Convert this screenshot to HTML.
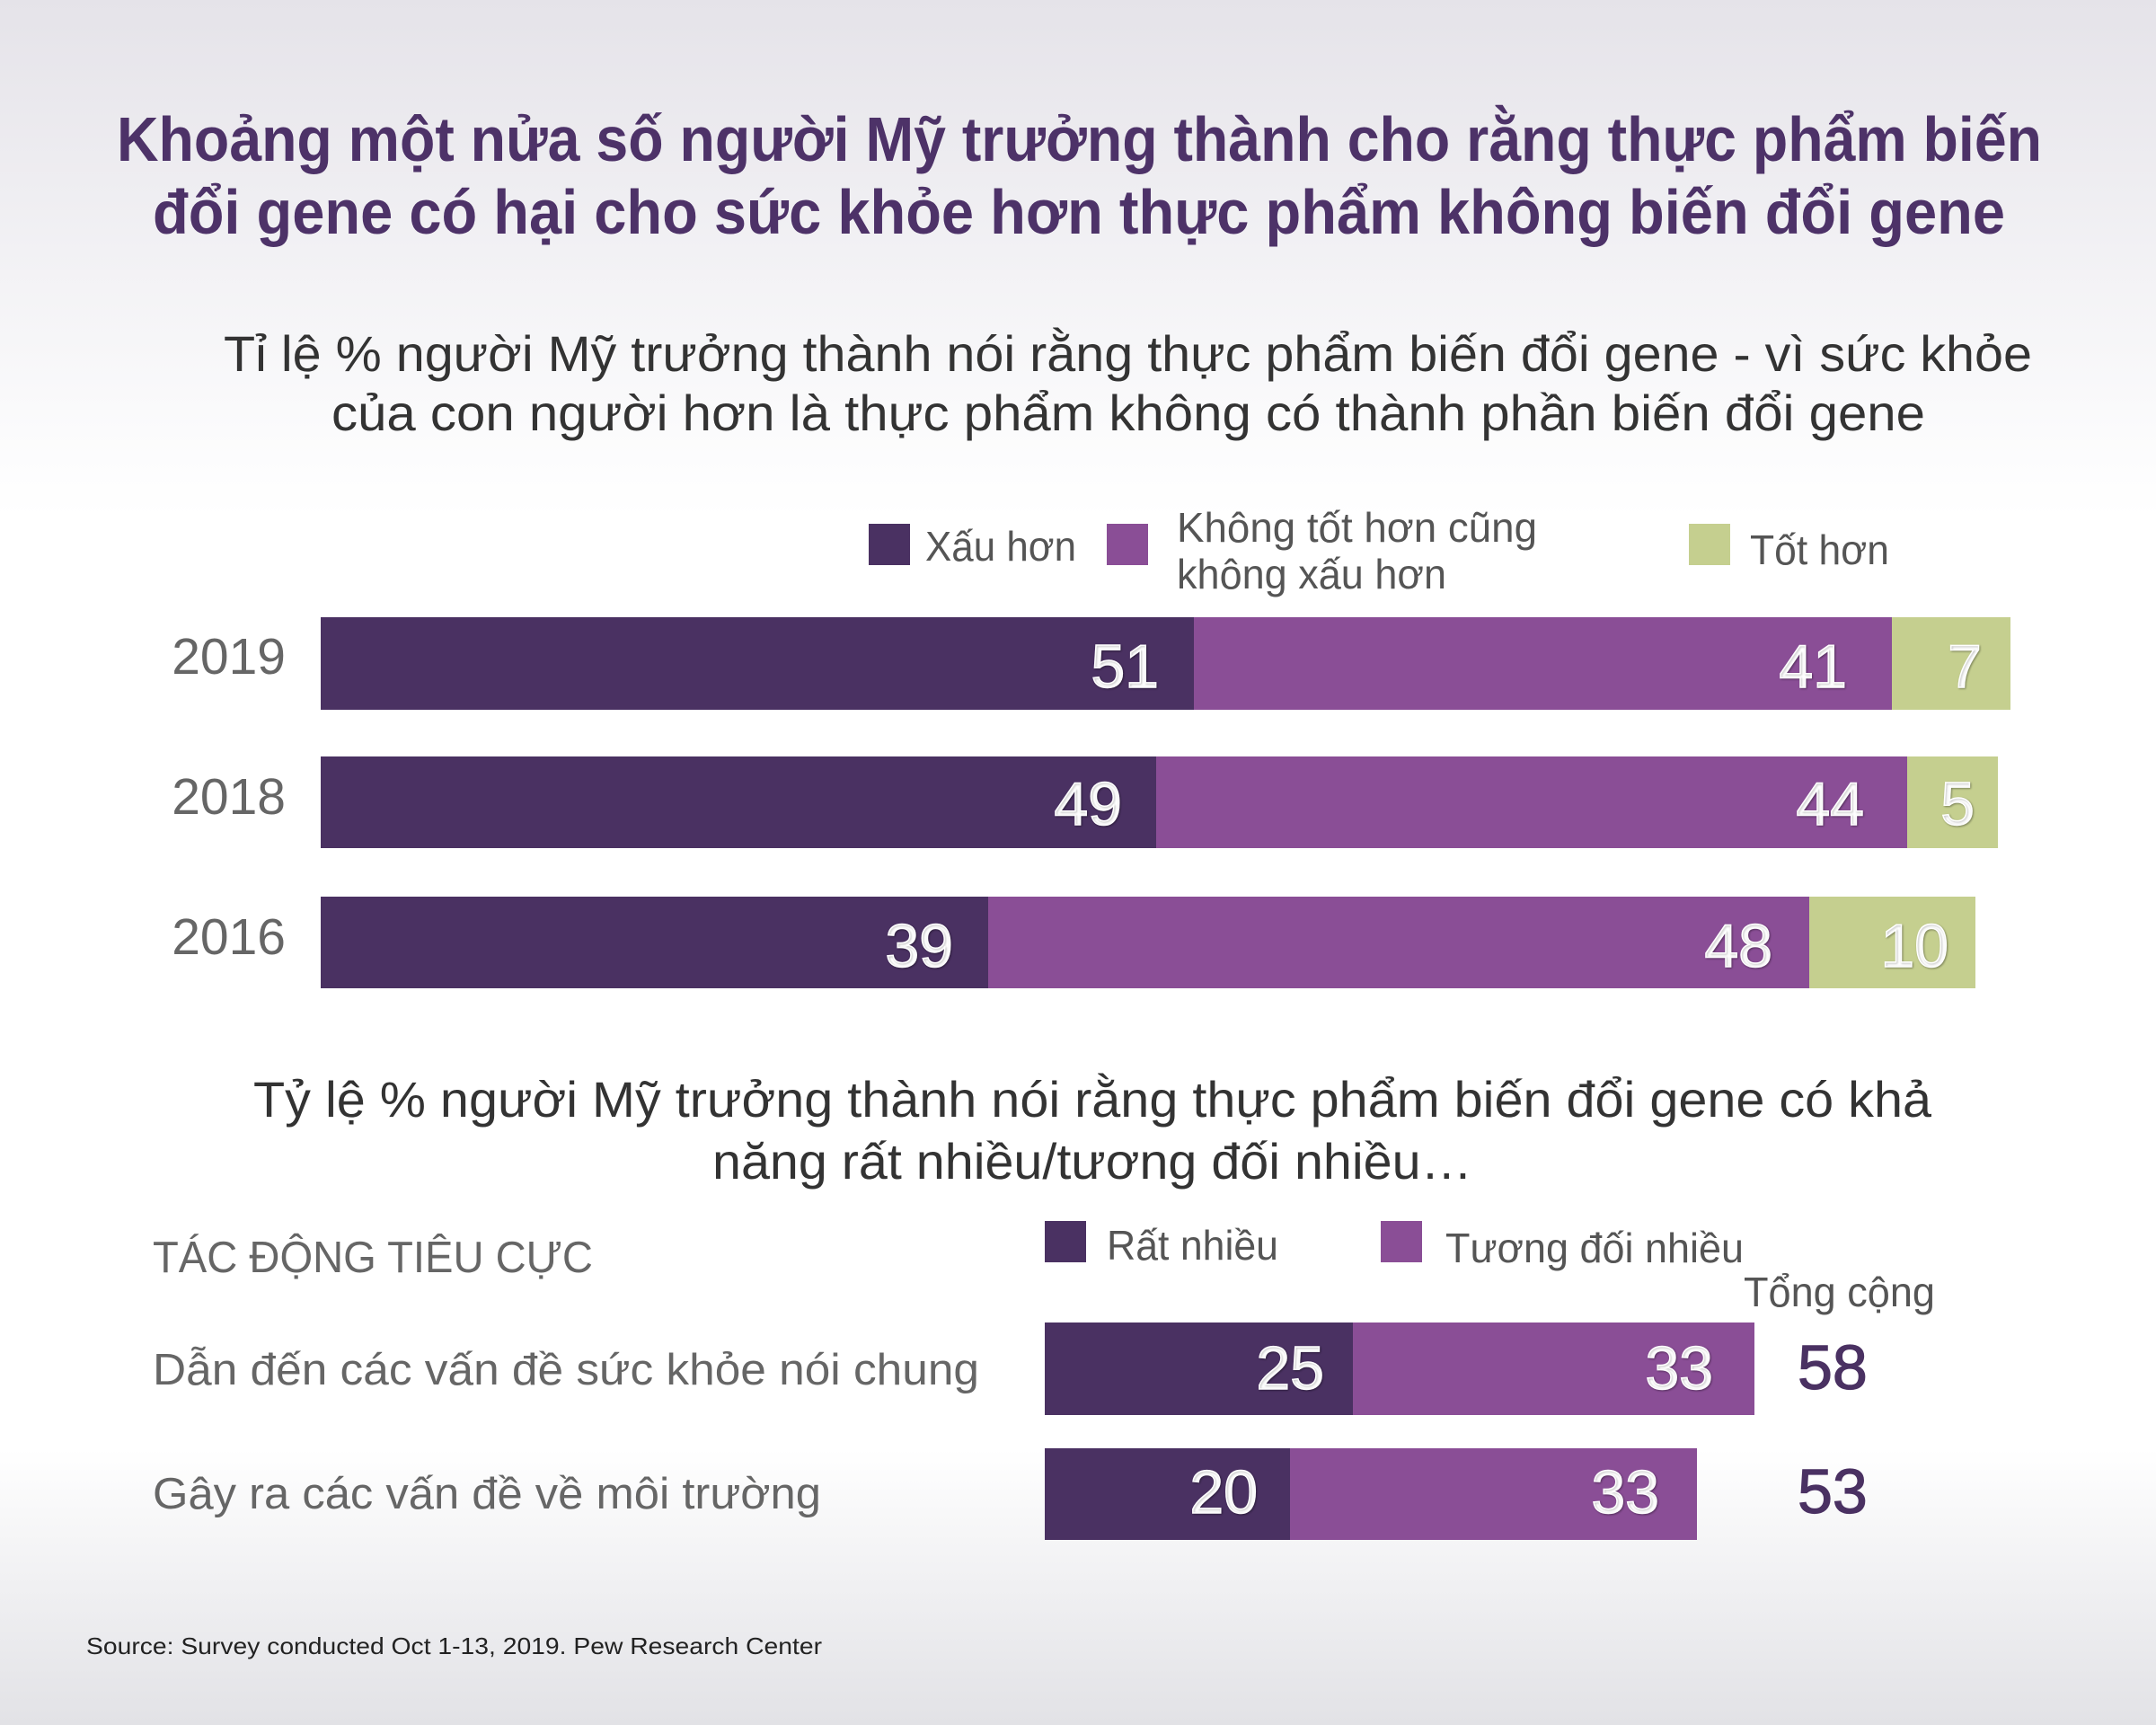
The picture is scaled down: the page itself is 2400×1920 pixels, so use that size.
<!DOCTYPE html>
<html><head><meta charset="utf-8"><style>
html,body{margin:0;padding:0;width:2400px;height:1920px;overflow:hidden}
svg{display:block}
text{font-family:"Liberation Sans",sans-serif}
</style></head><body>
<svg width="2400" height="1920" viewBox="0 0 2400 1920" xmlns="http://www.w3.org/2000/svg">
<defs>
<linearGradient id="bg" x1="0" y1="0" x2="0" y2="1">
<stop offset="0" stop-color="#e5e3e9"/>
<stop offset="0.25" stop-color="#fbfbfc"/>
<stop offset="0.3" stop-color="#ffffff"/>
<stop offset="0.84" stop-color="#ffffff"/>
<stop offset="0.92" stop-color="#f0f0f2"/>
<stop offset="1" stop-color="#e2e2e6"/>
</linearGradient>
</defs>
<rect width="2400" height="1920" fill="url(#bg)"/>
<g fill="#4d3268" font-weight="bold" font-size="70">
<text x="130" y="179" textLength="2143" lengthAdjust="spacingAndGlyphs">Khoảng một nửa số người Mỹ trưởng thành cho rằng thực phẩm biến</text>
<text x="170" y="260" textLength="2062" lengthAdjust="spacingAndGlyphs">đổi gene có hại cho sức khỏe hơn thực phẩm không biến đổi gene</text>
</g>
<g fill="#333" font-size="56">
<text x="249" y="413" textLength="2013" lengthAdjust="spacingAndGlyphs">Tỉ lệ % người Mỹ trưởng thành nói rằng thực phẩm biến đổi gene - vì sức khỏe</text>
<text x="369" y="479" textLength="1774" lengthAdjust="spacingAndGlyphs">của con người hơn là thực phẩm không có thành phần biến đổi gene</text>
</g>
<rect x="967" y="583" width="46" height="46" fill="#4a3162"/>
<rect x="1232" y="583" width="46" height="46" fill="#8a4e96"/>
<rect x="1880" y="583" width="46" height="46" fill="#c5cf8f"/>
<g fill="#555" font-size="46">
<text x="1030" y="624" textLength="168" lengthAdjust="spacingAndGlyphs">Xấu hơn</text>
<text x="1310" y="603" textLength="401" lengthAdjust="spacingAndGlyphs">Không tốt hơn cũng</text>
<text x="1310" y="655" textLength="300" lengthAdjust="spacingAndGlyphs">không xấu hơn</text>
<text x="1948" y="628" textLength="155" lengthAdjust="spacingAndGlyphs">Tốt hơn</text>
</g>
<g fill="#666" font-size="57" text-anchor="end">
<text x="318" y="750">2019</text>
<text x="318" y="906">2018</text>
<text x="318" y="1062">2016</text>
</g>
<rect x="357" y="687" width="972" height="103" fill="#4a3162"/>
<rect x="1329" y="687" width="777" height="103" fill="#8a4e96"/>
<rect x="2106" y="687" width="132" height="103" fill="#c5cf8f"/>
<rect x="357" y="842" width="930" height="102" fill="#4a3162"/>
<rect x="1287" y="842" width="836" height="102" fill="#8a4e96"/>
<rect x="2123" y="842" width="101" height="102" fill="#c5cf8f"/>
<rect x="357" y="998" width="743" height="102" fill="#4a3162"/>
<rect x="1100" y="998" width="914" height="102" fill="#8a4e96"/>
<rect x="2014" y="998" width="185" height="102" fill="#c5cf8f"/>
<g fill="#fff" stroke="#fff" stroke-width="1.5" font-size="68" text-anchor="end" style="text-shadow:1px 1px 2px rgba(0,0,0,0.3)">
<text x="1290" y="765">51</text>
<text x="2056" y="765">41</text>
<text x="2206" y="765">7</text>
<text x="1249" y="918">49</text>
<text x="2075" y="918">44</text>
<text x="2198" y="918">5</text>
<text x="1061" y="1076">39</text>
<text x="1973" y="1076">48</text>
<text x="2169" y="1076">10</text>
</g>
<g fill="#333" font-size="56">
<text x="282" y="1243" textLength="1868" lengthAdjust="spacingAndGlyphs">Tỷ lệ % người Mỹ trưởng thành nói rằng thực phẩm biến đổi gene có khả</text>
<text x="793" y="1312" textLength="846" lengthAdjust="spacingAndGlyphs">năng rất nhiều/tương đối nhiều…</text>
</g>
<g fill="#666" font-size="49">
<text x="170" y="1416" textLength="490" lengthAdjust="spacingAndGlyphs">TÁC ĐỘNG TIÊU CỰC</text>
<text x="170" y="1541" textLength="920" lengthAdjust="spacingAndGlyphs">Dẫn đến các vấn đề sức khỏe nói chung</text>
<text x="170" y="1679" textLength="744" lengthAdjust="spacingAndGlyphs">Gây ra các vấn đề về môi trường</text>
</g>
<rect x="1163" y="1359" width="46" height="46" fill="#4a3162"/>
<rect x="1537" y="1359" width="46" height="46" fill="#8a4e96"/>
<g fill="#555" font-size="46">
<text x="1232" y="1402" textLength="191" lengthAdjust="spacingAndGlyphs">Rất nhiều</text>
<text x="1609" y="1405" textLength="332" lengthAdjust="spacingAndGlyphs">Tương đối nhiều</text>
<text x="1941" y="1454" textLength="213" lengthAdjust="spacingAndGlyphs">Tổng cộng</text>
</g>
<rect x="1163" y="1472" width="343" height="103" fill="#4a3162"/>
<rect x="1506" y="1472" width="447" height="103" fill="#8a4e96"/>
<rect x="1163" y="1612" width="273" height="102" fill="#4a3162"/>
<rect x="1436" y="1612" width="453" height="102" fill="#8a4e96"/>
<g fill="#fff" stroke="#fff" stroke-width="1.5" font-size="68" text-anchor="end" style="text-shadow:1px 1px 2px rgba(0,0,0,0.3)">
<text x="1474" y="1546">25</text>
<text x="1907" y="1546">33</text>
<text x="1400" y="1684">20</text>
<text x="1847" y="1684">33</text>
</g>
<g fill="#4a3162" stroke="#4a3162" stroke-width="1.2" font-size="70">
<text x="2001" y="1546">58</text>
<text x="2001" y="1684">53</text>
</g>
<text x="96" y="1841" fill="#222" font-size="26" textLength="819" lengthAdjust="spacingAndGlyphs">Source: Survey conducted Oct 1-13, 2019. Pew Research Center</text>
</svg>
</body></html>
